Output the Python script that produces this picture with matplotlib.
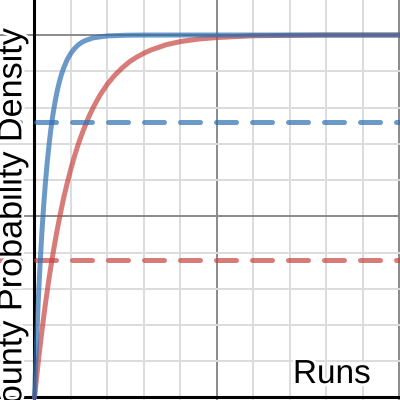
import numpy as np
import matplotlib
matplotlib.use("Agg")
import matplotlib.pyplot as plt
import matplotlib.patheffects as pe

plt.rcParams['font.family'] = ['Liberation Sans', 'DejaVu Sans']

# values
fast_x = [0, 0.05, 0.1, 0.15, 0.2, 0.25, 0.3, 0.35, 0.4, 0.45, 0.5, 0.55, 0.6,
          0.65, 0.7, 0.75, 0.8, 0.9, 1.0, 1.1, 1.2, 1.3, 1.4, 1.6, 1.8, 2.0,
          2.5, 3.0, 4.0, 5.0, 7.0, 10.1]
fast_y = [0, 0.139, 0.259, 0.362, 0.451, 0.528, 0.593, 0.650, 0.699, 0.741,
          0.777, 0.808, 0.835, 0.858, 0.878, 0.895, 0.909, 0.933, 0.950, 0.963,
          0.973, 0.980, 0.985, 0.992, 0.995, 0.9975, 0.9994, 0.9999, 1.0, 1.0,
          1.0, 1.0]

slow_x = [0, 0.1, 0.2, 0.3, 0.4, 0.5, 0.6, 0.7, 0.8, 0.9, 1.0, 1.1, 1.2, 1.3,
          1.4, 1.5, 1.6, 1.7, 1.8, 1.9, 2.0, 2.2, 2.4, 2.6, 2.8, 3.0, 3.2, 3.6,
          4.0, 4.5, 5.0, 6.0, 7.0, 8.0, 9.0, 10.1]
slow_y = [0, 0.095, 0.181, 0.259, 0.330, 0.393, 0.451, 0.503, 0.551, 0.593,
          0.632, 0.667, 0.699, 0.727, 0.753, 0.777, 0.798, 0.817, 0.835, 0.850,
          0.865, 0.889, 0.909, 0.926, 0.939, 0.950, 0.959, 0.973, 0.982, 0.989,
          0.993, 0.998, 0.999, 1.0, 1.0, 1.0]

fast_level = 0.760
slow_level = 0.379

blue = '#2d70b3'
red = '#c74440'

fig = plt.figure(figsize=(4, 4), dpi=100)
ax = fig.add_axes([0, 0, 1, 1])
ax.set_xlim(-0.945, 10.014)
ax.set_ylim(-0.0069, 1.0966)

# grid
for x in range(1, 11):
    major = x % 5 == 0
    ax.axvline(x, color='#8a8a8a' if major else '#dcdcdc', lw=1.4, zorder=0)
for i in range(1, 11):
    y = i / 10
    major = i % 5 == 0
    ax.axhline(y, color='#8a8a8a' if major else '#dcdcdc', lw=1.4, zorder=0)
ax.axvline(0, color='black', lw=2.2, zorder=1)
ax.axhline(0, color='black', lw=2.2, zorder=1)

ax.plot(slow_x, slow_y, color=red, alpha=0.7, lw=3.6, solid_capstyle='round',
        solid_joinstyle='round', zorder=3)
ax.plot(fast_x, fast_y, color=blue, alpha=0.7, lw=3.6, solid_capstyle='round',
        solid_joinstyle='round', zorder=4)
ax.axhline(slow_level, color=red, alpha=0.7, lw=3.6, ls=(0, (4, 3.2)),
           dash_capstyle='round', zorder=3)
ax.axhline(fast_level, color=blue, alpha=0.7, lw=3.6, ls=(0, (4, 3.2)),
           dash_capstyle='round', zorder=4)

halo = [pe.withStroke(linewidth=4, foreground='white')]
ax.text(-0.36, 1.016, 'County Probability Density', rotation=90,
        rotation_mode='anchor', ha='right', va='baseline', fontsize=24.6,
        path_effects=halo, zorder=6)
ax.text(7.08, 0.04, 'Runs', ha='left', va='baseline', fontsize=24,
        path_effects=halo, zorder=6)

ax.set_xticks([])
ax.set_yticks([])
for s in ax.spines.values():
    s.set_visible(False)

fig.savefig('out.png', dpi=100)
